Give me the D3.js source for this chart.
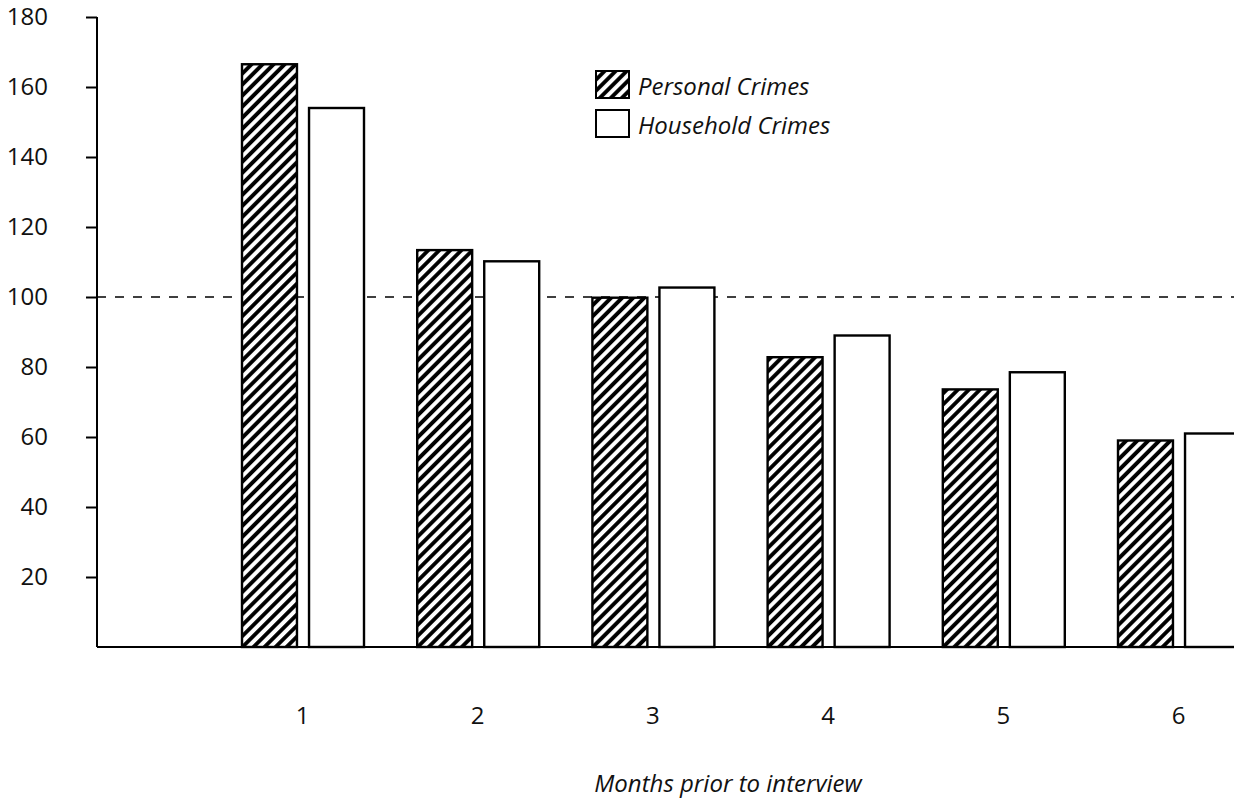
<!DOCTYPE html>
<html>
<head>
<meta charset="utf-8">
<script src="https://cdn.jsdelivr.net/npm/d3@7"></script>
<style>
  html, body { margin: 0; padding: 0; background: #fff; }
  svg { display: block; }
  text { font-family: "Open Sans", "Noto Sans", sans-serif; fill: #111; }
</style>
</head>
<body>
<script>
// ---- data ----
const months = [1, 2, 3, 4, 5, 6];
const personalCrimes = [166.5, 113.4, 99.8, 82.8, 73.6, 59.0];
const householdCrimes = [154.0, 110.2, 102.7, 89.0, 78.5, 61.0];
const seriesNames = ["Personal Crimes", "Household Crimes"];
const yTicks = [20, 40, 60, 80, 100, 120, 140, 160, 180];
const referenceLine = 100;
const xTitle = "Months prior to interview";

// ---- layout ----
const W = 1234, H = 801;
const svg = d3.select("body").append("svg").attr("width", W).attr("height", H);

const defs = svg.append("defs");
const pat = defs.append("pattern")
  .attr("id", "hatch")
  .attr("patternUnits", "userSpaceOnUse")
  .attr("width", 7.8).attr("height", 7.8)
  .attr("patternTransform", "rotate(45)");
pat.append("rect").attr("width", 7.8).attr("height", 7.8).attr("fill", "#fff");
pat.append("line").attr("x1", 2).attr("y1", 0).attr("x2", 2).attr("y2", 7.8)
  .attr("stroke", "#000").attr("stroke-width", 3.9);

const y = d3.scaleLinear().domain([0, 180]).range([647, 17]);
const x = d3.scaleLinear().domain([0, 6]).range([126.8, 1178]);
const xSub = d3.scaleBand().domain(seriesNames).range([-60, 62]).paddingInner(0.18);

const axisX0 = 97;
const fontSize = 24;

// dashed reference line
svg.append("line")
  .attr("x1", axisX0).attr("x2", W)
  .attr("y1", y(referenceLine)).attr("y2", y(referenceLine))
  .attr("stroke", "#000").attr("stroke-width", 1.5)
  .attr("stroke-dasharray", "9,9");

// y axis
const yAxis = d3.axisLeft(y).tickValues(yTicks).tickSize(11).tickPadding(38).tickFormat(d3.format("d"));
const gy = svg.append("g").attr("transform", `translate(${axisX0},0)`).call(yAxis);
gy.select(".domain").attr("stroke", "#000").attr("stroke-width", 2)
  .attr("d", `M0,${y(180)}V${y(0)}`);
gy.selectAll(".tick line").attr("stroke", "#000").attr("stroke-width", 2);
gy.selectAll(".tick text").attr("font-size", fontSize).attr("font-family", "Open Sans, sans-serif").attr("fill", "#111");

// bars
const rows = months.map((m, i) => ({ m, personal: personalCrimes[i], household: householdCrimes[i] }));
const groups = svg.append("g").selectAll("g").data(rows).join("g")
  .attr("transform", d => `translate(${x(d.m)},0)`);
groups.append("rect")
  .attr("x", xSub(seriesNames[0])).attr("width", xSub.bandwidth())
  .attr("y", d => y(d.personal)).attr("height", d => y(0) - y(d.personal))
  .attr("fill", "url(#hatch)").attr("stroke", "#000").attr("stroke-width", 2.4);
groups.append("rect")
  .attr("x", xSub(seriesNames[1])).attr("width", xSub.bandwidth())
  .attr("y", d => y(d.household)).attr("height", d => y(0) - y(d.household))
  .attr("fill", "#fff").attr("stroke", "#000").attr("stroke-width", 2.4);

// x axis baseline
svg.append("line").attr("x1", axisX0).attr("x2", W).attr("y1", y(0)).attr("y2", y(0))
  .attr("stroke", "#000").attr("stroke-width", 2);

// x tick labels
const xAxis = d3.axisBottom(x).tickValues(months).tickSize(0).tickPadding(60).tickFormat(d3.format("d"));
const gx = svg.append("g").attr("transform", `translate(0,${y(0)})`).call(xAxis);
gx.select(".domain").remove();
gx.selectAll(".tick text").attr("font-size", fontSize).attr("font-family", "Open Sans, sans-serif").attr("fill", "#111");

// x title
svg.append("text").attr("x", 728).attr("y", 792)
  .attr("text-anchor", "middle").attr("font-size", fontSize).attr("font-style", "italic")
  .text(xTitle);

// legend
const legend = svg.append("g");
const legendItems = [
  { name: seriesNames[0], fill: "url(#hatch)", y: 71 },
  { name: seriesNames[1], fill: "#fff", y: 110 }
];
legendItems.forEach(it => {
  legend.append("rect").attr("x", 596).attr("y", it.y).attr("width", 33).attr("height", 27)
    .attr("fill", it.fill).attr("stroke", "#000").attr("stroke-width", 2);
  legend.append("text").attr("x", 638).attr("y", it.y + 24)
    .attr("font-size", fontSize).attr("font-style", "italic").text(it.name);
});
</script>
</body>
</html>
